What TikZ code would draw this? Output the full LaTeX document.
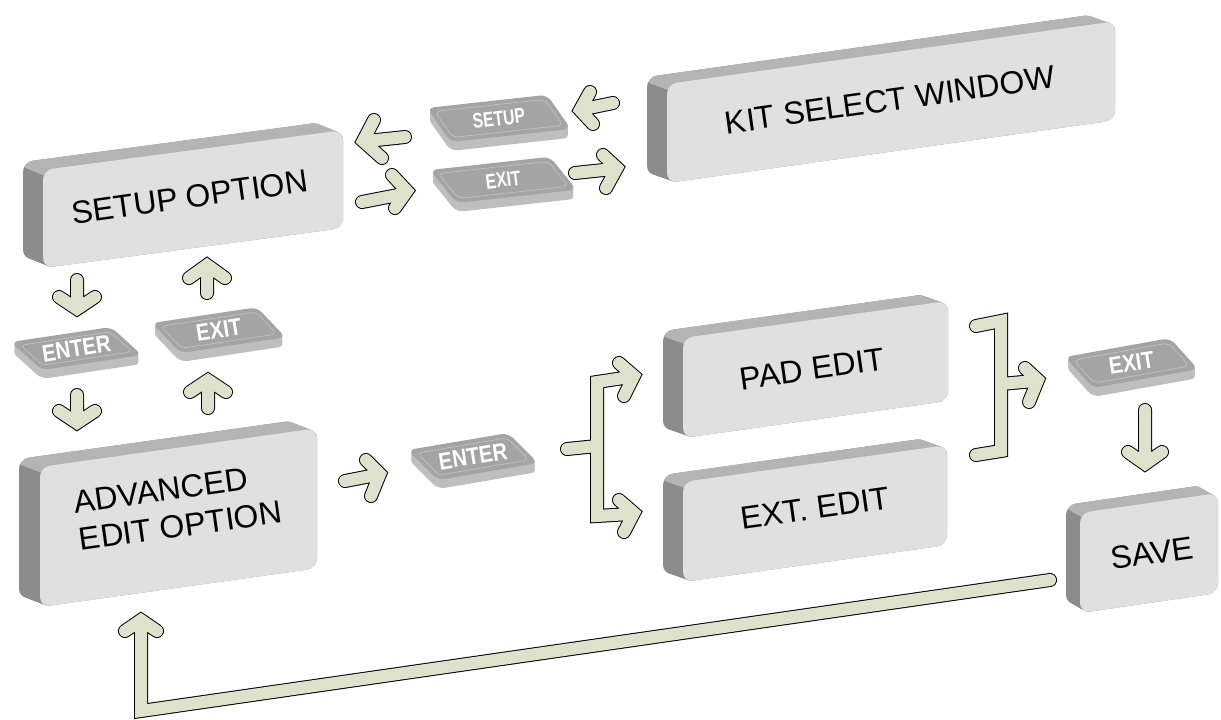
\documentclass[tikz,border=0pt]{standalone}
\usepackage{fontspec}
\setmainfont{Liberation Sans}
\usepackage{tikz}
\usetikzlibrary{positioning}

\definecolor{facegray}{HTML}{E0E0E0}
\definecolor{topgray}{HTML}{B4B4B4}
\definecolor{sidegray}{HTML}{8C8C8C}
\definecolor{keytop}{HTML}{A4A4A4}
\definecolor{keyside}{HTML}{BEBEBE}
\definecolor{keyline}{HTML}{C4C4C4}
\definecolor{arrowfill}{RGB}{222,226,204}

% slab: x, y (front top-left), width, height, slope, depth x, depth y
\newcommand{\slab}[7]{%
  \pgfmathsetmacro{\bu}{-(#6)}%
  \pgfmathsetmacro{\bv}{-(#7)-(#5)*(#6)}%
  \begin{scope}[shift={(#1,#2)}, cm={1,#5,0,1,(0,0)}]
    \foreach \k in {0,...,20}
      \fill[sidegray, rounded corners=10pt, shift={({\bu*(1-\k/20)},{\bv*(1-\k/20)})}] (0,0) rectangle (#3,#4);
    \begin{scope}
      \clip (10,10) -- ({10+4*\bu},{10+4*\bv}) -- ({#3+40},{10+4*\bv}) -- ({#3+40},10) -- cycle;
      \foreach \k in {0,...,20}
        \fill[topgray, rounded corners=10pt, shift={({\bu*(1-\k/20)},{\bv*(1-\k/20)})}] (0,0) rectangle (#3,#4);
    \end{scope}
    \fill[facegray, rounded corners=10pt] (0,0) rectangle (#3,#4);
  \end{scope}}

% key: [text style] x, y (top face top-left), width, height, slope, lean, name, text
\newcommand{\keycap}[9][keytext]{%
  \foreach \k in {9,...,1}
    \fill[keyside, rounded corners=7pt, shift={(#2,#3+\k)}, cm={1,#6,-#7,1,(0,0)}] (0,0) rectangle (#4,#5);
  \begin{scope}[shift={(#2,#3)}, cm={1,#6,-#7,1,(0,0)}]
    \fill[keytop, rounded corners=7pt] (0,0) rectangle (#4,#5);
    \draw[keyline, line width=.6pt, rounded corners=5pt] (5,4) rectangle (#4-5,#5-4);
    \node[#1] (#8) at (#4/2,#5/2) {#9};
  \end{scope}}

\newcommand{\fatpath}[1]{\draw[fatout] #1; \draw[fatin] #1;}

\begin{document}
\begin{tikzpicture}[x=1pt, y=-1pt,
  boxtext/.style={font=\fontsize{32}{38}\selectfont, rotate=8, align=left, inner sep=0pt},
  keytext/.style={text=white, font=\bfseries\fontsize{24}{24}\selectfont, rotate=9, xscale=.85, inner sep=0pt},
  keysmall/.style={text=white, font=\bfseries\fontsize{21}{21}\selectfont, rotate=7, xscale=.75, inner sep=0pt},
  fatout/.style={draw=black, line width=14pt, line join=miter, line cap=round},
  fatin/.style={draw=arrowfill, line width=12pt, line join=miter, line cap=round}]
  \useasboundingbox (0,0) rectangle (1221,720);

  % option boxes
  \slab{43}{170}{300}{98}{0.133}{20}{8}
  \slab{667}{84}{448}{99}{0.14}{20}{7}
  \slab{40}{467}{277}{140}{0.14}{21}{8}
  \slab{683}{338}{265}{100}{0.14}{20}{7}
  \slab{683}{482}{264}{100}{0.14}{20}{7}
  \slab{1080}{513}{138}{100}{0.145}{14}{8}

  \node[boxtext] (setupopt) at (190,197) {SETUP OPTION};
  \node[boxtext] (kitsel) at (890,100) {KIT SELECT WINDOW};
  \node[boxtext] (advedit) at (178,507) {ADVANCED\\EDIT OPTION};
  \node[boxtext] (padedit) at (812,369) {PAD EDIT};
  \node[boxtext] (extedit) at (815,508) {EXT. EDIT};
  \node[boxtext] (save) at (1152,553) {SAVE};

  % keys
  \keycap[keysmall]{427}{108}{120}{34}{0.11}{0.7}{keysetup}{SETUP}
  \keycap[keysmall]{430}{170}{120}{33}{0.11}{0.8}{keyexit}{EXIT}
  \keycap{11}{342}{100}{28}{0.15}{1.1}{keyenter}{ENTER}
  \keycap{152}{323}{105}{30}{0.15}{0.95}{keyexitb}{EXIT}
  \keycap{408}{450}{100}{30}{0.17}{1.0}{keyentermid}{ENTER}
  \keycap{1065}{357}{105}{31}{0.18}{0.9}{keyexitc}{EXIT}

  % arrows
  \fatpath{(405,137) -- (367,141) (374,120) -- (363,141) -- (382,158)}
  \fatpath{(362,202) -- (403,194) (392,175) -- (407,191) -- (395,208)}
  \fatpath{(613,103) -- (584,109) (590,92) -- (580,110) -- (593,124)}
  \fatpath{(575,173) -- (613,169) (603,155) -- (617,168) -- (606,188)}
  \fatpath{(77,280) -- (77,306) (59,297) -- (77,309) -- (95,297)}
  \fatpath{(77,395) -- (77,420) (59,411) -- (77,423) -- (95,411)}
  \fatpath{(208,408) -- (208,383) (190,392) -- (208,380) -- (226,392)}
  \fatpath{(207,293) -- (207,268) (189,278) -- (207,265) -- (225,278)}
  \fatpath{(345,481) -- (376,475) (366,460) -- (380,474) -- (371,496)}
  % branch to the two edit boxes
  \fatpath{(567,449) -- (597,446) (630,377) -- (597,382) -- (597,516) -- (630,514)
    (619,363) -- (634,376) -- (624,396) (619,500) -- (634,513) -- (624,532)}
  % join from the two edit boxes
  \fatpath{(976,326) -- (1001,321) -- (1001,451) -- (976,455)
    (1001,384) -- (1034,381) (1025,368) -- (1038,380) -- (1029,402)}
  \fatpath{(1145,410) -- (1145,461) (1128,452) -- (1145,464) -- (1162,452)}
  % return to advanced edit
  \fatpath{(1050,580) -- (141,711) -- (141,624) (125,631) -- (141,620) -- (157,631)}
\end{tikzpicture}
\end{document}
